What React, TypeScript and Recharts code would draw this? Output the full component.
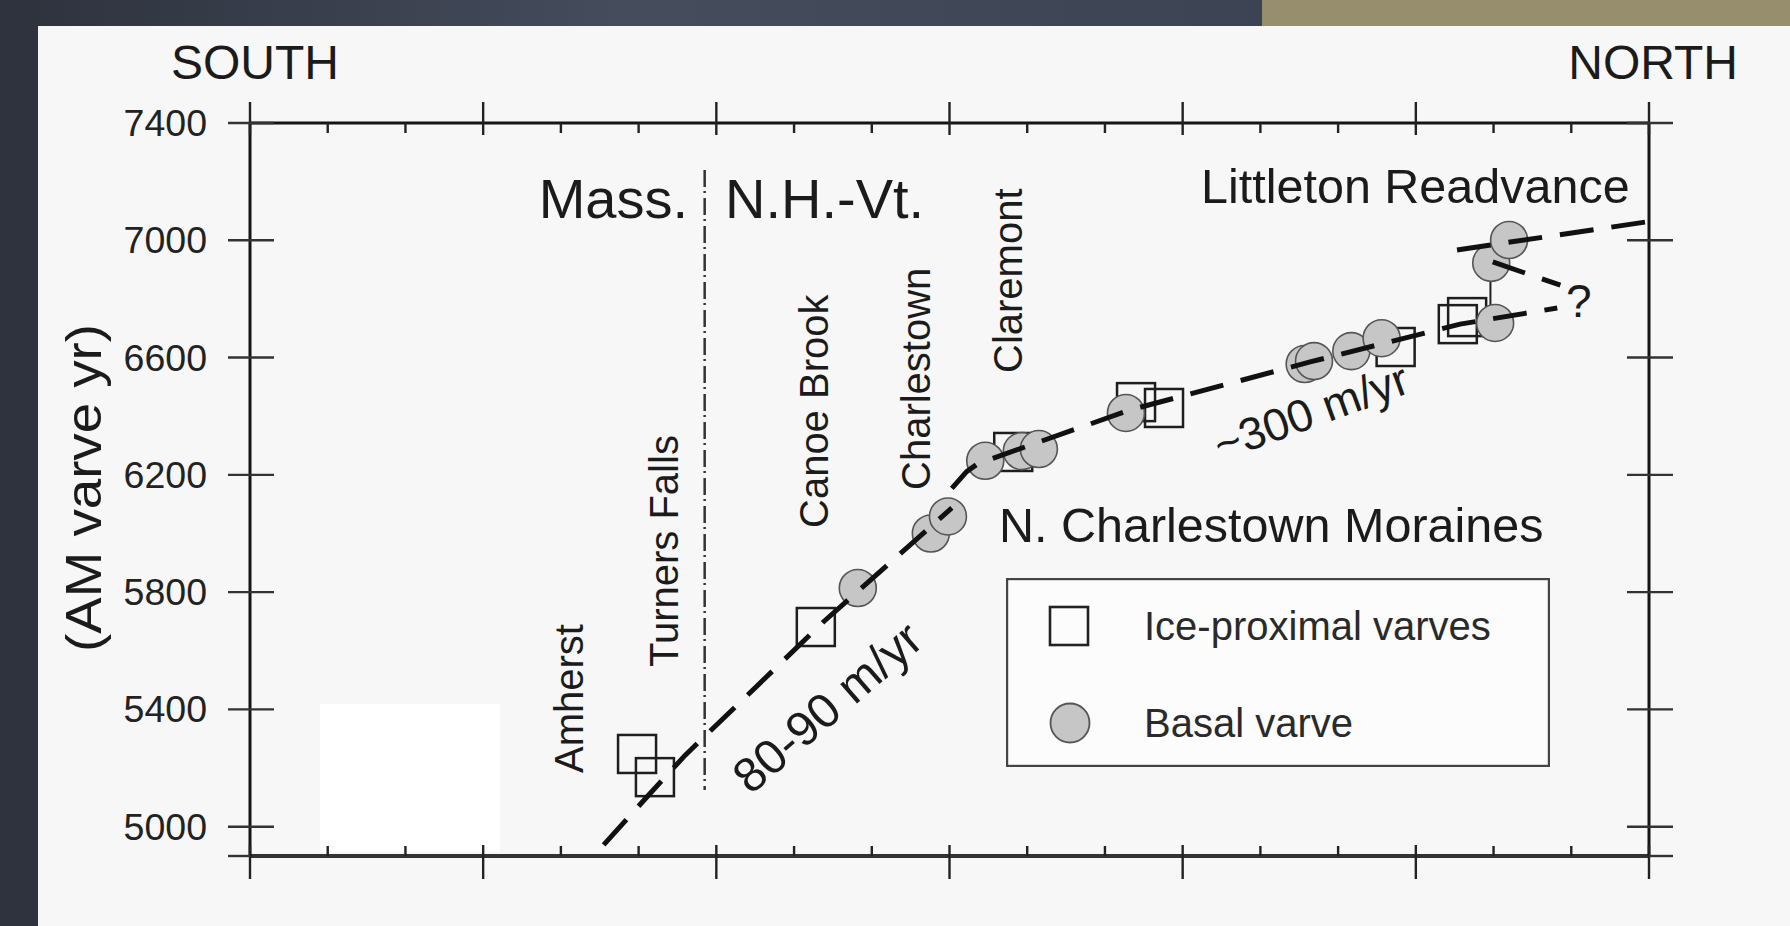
import React from 'react'
import { ComposedChart, Line, Scatter, XAxis, YAxis, Legend } from 'recharts'

const W = 1790
const H = 926

// axes
const xTicks = [0, 1, 2, 3, 4, 5, 6, 7, 8, 9, 10, 11, 12, 13, 14, 15, 16, 17, 18]
const yTicks = [4900, 5000, 5400, 5800, 6200, 6600, 7000, 7400]
const yTickLabels = [5000, 5400, 5800, 6200, 6600, 7000, 7400]
const legendOrder = ['Ice-proximal varves', 'Basal varve']

// ice-proximal varves (squares)
const iceProximal = [
  { x: 4.98, y: 5248 },
  { x: 5.21, y: 5169 },
  { x: 7.28, y: 5681 },
  { x: 9.82, y: 6278 },
  { x: 11.4, y: 6448 },
  { x: 11.76, y: 6428 },
  { x: 14.74, y: 6636 },
  { x: 15.54, y: 6714 },
  { x: 15.66, y: 6738 },
]

// basal varves (circles)
const basal = [
  { x: 7.82, y: 5814 },
  { x: 8.76, y: 6000 },
  { x: 8.98, y: 6058 },
  { x: 9.46, y: 6248 },
  { x: 9.93, y: 6281 },
  { x: 10.15, y: 6288 },
  { x: 11.27, y: 6411 },
  { x: 13.57, y: 6578 },
  { x: 13.69, y: 6588 },
  { x: 14.17, y: 6622 },
  { x: 14.56, y: 6666 },
  { x: 16.02, y: 6718 },
  { x: 15.97, y: 6923 },
  { x: 16.2, y: 7001 },
]

// fitted lines
const lineA = [
  { x: 4.55, y: 4938 },
  { x: 5.15, y: 5114 },
  { x: 5.6, y: 5244 },
  { x: 7.38, y: 5699 },
  { x: 9.03, y: 6087 },
]
const lineB = [
  { x: 9.03, y: 6154 },
  { x: 9.22, y: 6211 },
  { x: 9.37, y: 6239 },
  { x: 11.32, y: 6421 },
  { x: 13.64, y: 6585 },
  { x: 15.57, y: 6714 },
  { x: 16.82, y: 6769 },
]
const lineC = [
  { x: 15.53, y: 6967 },
  { x: 17.95, y: 7062 },
]
const lineD = [
  { x: 15.99, y: 6926 },
  { x: 16.86, y: 6847 },
]
const connector = [
  { x: 15.96, y: 6923 },
  { x: 15.96, y: 6718 },
]
const boundary = [
  { x: 5.85, y: 7240 },
  { x: 5.85, y: 5125 },
]

const FONT = "'Liberation Sans', Arial, Helvetica, sans-serif"
const INK = '#1b1b1b'

const SquareShape = (props: any) => {
  const { cx, cy } = props
  const s = 38
  return <rect x={cx - s / 2} y={cy - s / 2} width={s} height={s} fill="none" stroke="#1e1e1e" strokeWidth={2.5} />
}

const CircleShape = (props: any) => {
  const { cx, cy } = props
  return <circle cx={cx} cy={cy} r={18.5} fill="#c6c6c6" stroke="#555" strokeWidth={1.6} />
}

const BottomTick = (props: any) => {
  const { x, y, payload } = props
  const major = payload.value % 3 === 0
  return (
    <g>
      <line x1={x} x2={x} y1={major ? y - 11 : y - 10} y2={major ? y + 23 : y} stroke="#222" strokeWidth={2.4} />
    </g>
  )
}

const TopTick = (props: any) => {
  const { x, y, payload } = props
  const major = payload.value % 3 === 0
  return (
    <g>
      <line x1={x} x2={x} y1={major ? y - 21 : y} y2={major ? y + 12 : y + 10} stroke="#222" strokeWidth={2.4} />
    </g>
  )
}

const LeftTick = (props: any) => {
  const { x, y, payload } = props
  const labelled = yTickLabels.includes(payload.value)
  return (
    <g>
      <line x1={x - 22} x2={labelled ? x + 24 : x} y1={y} y2={y} stroke="#333" strokeWidth={2.4} />
      {labelled && (
        <text x={x - 43} y={y} textAnchor="end" dominantBaseline="central" fontFamily={FONT} fontSize={37.5} fill="#222">
          {payload.value}
        </text>
      )}
    </g>
  )
}

const RightTick = (props: any) => {
  const { x, y, payload } = props
  const labelled = yTickLabels.includes(payload.value)
  return (
    <g>
      <line x1={labelled ? x - 22 : x} x2={x + 24} y1={y} y2={y} stroke="#333" strokeWidth={2.4} />
    </g>
  )
}

const renderLegend = (props: any) => {
  const names = (props.payload || []).map((p: any) => p.value)
  const items = legendOrder.filter((n) => names.includes(n))
  return (
    <svg width={544} height={189} style={{ display: 'block' }}>
      <rect x={1} y={1} width={542} height={187} fill="#fcfcfc" stroke="#444" strokeWidth={2.4} />
      {items.map((name: string, i: number) => {
        const cy = i === 0 ? 48 : 145
        return (
          <g key={name}>
            {name === 'Ice-proximal varves' ? (
              <rect x={44} y={cy - 19} width={38} height={38} fill="none" stroke="#222" strokeWidth={2.6} />
            ) : (
              <circle cx={64} cy={cy} r={19.5} fill="#c6c6c6" stroke="#555" strokeWidth={1.8} />
            )}
            <text x={138} y={cy + 14} fontFamily={FONT} fontSize={40} fill="#2a2a2a">
              {name}
            </text>
          </g>
        )
      })}
    </svg>
  )
}

export default function App() {
  return (
    <div style={{ position: 'fixed', left: 0, top: 0, width: W, height: H, overflow: 'hidden', background: '#f7f7f7' }}>
      <svg width={W} height={H} style={{ position: 'absolute', left: 0, top: 0 }}>
        <defs>
          <linearGradient id="slate" x1="0" y1="0" x2="1" y2="0">
            <stop offset="0" stopColor="#2d323d" />
            <stop offset="0.5" stopColor="#454c5c" />
            <stop offset="1" stopColor="#3c4352" />
          </linearGradient>
        </defs>
        <rect x={0} y={0} width={W} height={H} fill="#f7f7f7" />
        <rect x={0} y={0} width={1262} height={26} fill="url(#slate)" />
        <rect x={1262} y={0} width={W - 1262} height={26} fill="#978e6e" />
        <rect x={0} y={0} width={38} height={H} fill="#2e333e" />
        <rect x={320} y={704} width={180} height={148} fill="#ffffff" />
      </svg>

      <div style={{ position: 'absolute', left: 0, top: 0 }}>
        <ComposedChart width={W} height={H} margin={{ top: 122, right: 140, bottom: 69, left: 249 }}>
          <XAxis
            xAxisId="b"
            dataKey="x"
            type="number"
            domain={[0, 18]}
            allowDataOverflow
            ticks={xTicks}
            interval={0}
            height={1}
            tickSize={0}
            tickMargin={0}
            tickLine={false}
            tick={<BottomTick />}
            axisLine={{ stroke: '#333', strokeWidth: 4 }}
          />
          <XAxis
            xAxisId="t"
            orientation="top"
            dataKey="x"
            type="number"
            domain={[0, 18]}
            allowDataOverflow
            ticks={xTicks}
            interval={0}
            height={1}
            tickSize={0}
            tickMargin={0}
            tickLine={false}
            tick={<TopTick />}
            axisLine={{ stroke: '#151515', strokeWidth: 3 }}
          />
          <YAxis
            yAxisId="l"
            type="number"
            domain={[4900, 7400]}
            allowDataOverflow
            ticks={yTicks}
            interval={0}
            width={1}
            tickSize={0}
            tickMargin={0}
            tickLine={false}
            tick={<LeftTick />}
            axisLine={{ stroke: '#151515', strokeWidth: 3 }}
          />
          <YAxis
            yAxisId="r"
            orientation="right"
            type="number"
            domain={[4900, 7400]}
            allowDataOverflow
            ticks={yTicks}
            interval={0}
            width={1}
            tickSize={0}
            tickMargin={0}
            tickLine={false}
            tick={<RightTick />}
            axisLine={{ stroke: '#151515', strokeWidth: 3 }}
          />

          <Line
            data={connector}
            dataKey="y"
            xAxisId="b"
            yAxisId="l"
            stroke="#222"
            strokeWidth={2}
            dot={false}
            activeDot={false}
            legendType="none"
            isAnimationActive={false}
          />
          <Scatter
            name="Ice-proximal varves"
            data={iceProximal}
            dataKey="y"
            xAxisId="b"
            yAxisId="l"
            shape={SquareShape}
            isAnimationActive={false}
          />
          <Scatter
            name="Basal varve"
            data={basal}
            dataKey="y"
            xAxisId="b"
            yAxisId="l"
            shape={CircleShape}
            isAnimationActive={false}
          />
          {[lineA, lineB, lineC, lineD].map((d, i) => (
            <Line
              key={i}
              data={d}
              dataKey="y"
              xAxisId="b"
              yAxisId="l"
              type="linear"
              stroke="#111"
              strokeWidth={5}
              strokeDasharray="34 18"
              dot={false}
              activeDot={false}
              legendType="none"
              isAnimationActive={false}
              zIndex={700}
            />
          ))}
          <Line
            data={boundary}
            dataKey="y"
            xAxisId="b"
            yAxisId="l"
            stroke="#333"
            strokeWidth={2.5}
            strokeDasharray="17 4 2 5"
            dot={false}
            activeDot={false}
            legendType="none"
            isAnimationActive={false}
          />
          <Legend
            layout="vertical"
            align="center"
            verticalAlign="middle"
            wrapperStyle={{ left: 1006, top: 578, width: 544, height: 189 }}
            content={renderLegend}
          />
        </ComposedChart>
      </div>

      <svg width={W} height={H} style={{ position: 'absolute', left: 0, top: 0, pointerEvents: 'none' }}>
        <g fontFamily={FONT} fill={INK}>
          <text x={171} y={79} fontSize={48}>SOUTH</text>
          <text x={1738} y={79} fontSize={48} textAnchor="end">NORTH</text>
          <text
            transform="translate(84,488) rotate(-90)"
            fontSize={50}
            textAnchor="middle"
            dominantBaseline="central"
            textLength={328}
            lengthAdjust="spacingAndGlyphs"
          >
            (AM varve yr)
          </text>
          <text x={688} y={218} fontSize={56} textAnchor="end">Mass.</text>
          <text x={725} y={218} fontSize={56}>N.H.-Vt.</text>
          <text transform="translate(583,773) rotate(-90)" fontSize={40}>Amherst</text>
          <text transform="translate(678,667) rotate(-90)" fontSize={40}>Turners Falls</text>
          <text transform="translate(828,528) rotate(-90)" fontSize={40}>Canoe Brook</text>
          <text transform="translate(930,490) rotate(-90)" fontSize={40}>Charlestown</text>
          <text transform="translate(1022,373) rotate(-90)" fontSize={40}>Claremont</text>
          <text x={1201} y={203} fontSize={48.5}>Littleton Readvance</text>
          <text x={999} y={542} fontSize={48.5}>N. Charlestown Moraines</text>
          <text transform="translate(827,707) rotate(-41)" fontSize={48.5} textAnchor="middle" dominantBaseline="central">
            80-90 m/yr
          </text>
          <text transform="translate(1311,412) rotate(-20)" fontSize={45.5} textAnchor="middle" dominantBaseline="central">
            ~300 m/yr
          </text>
          <text x={1566} y={317} fontSize={46}>?</text>
        </g>
      </svg>
    </div>
  )
}
